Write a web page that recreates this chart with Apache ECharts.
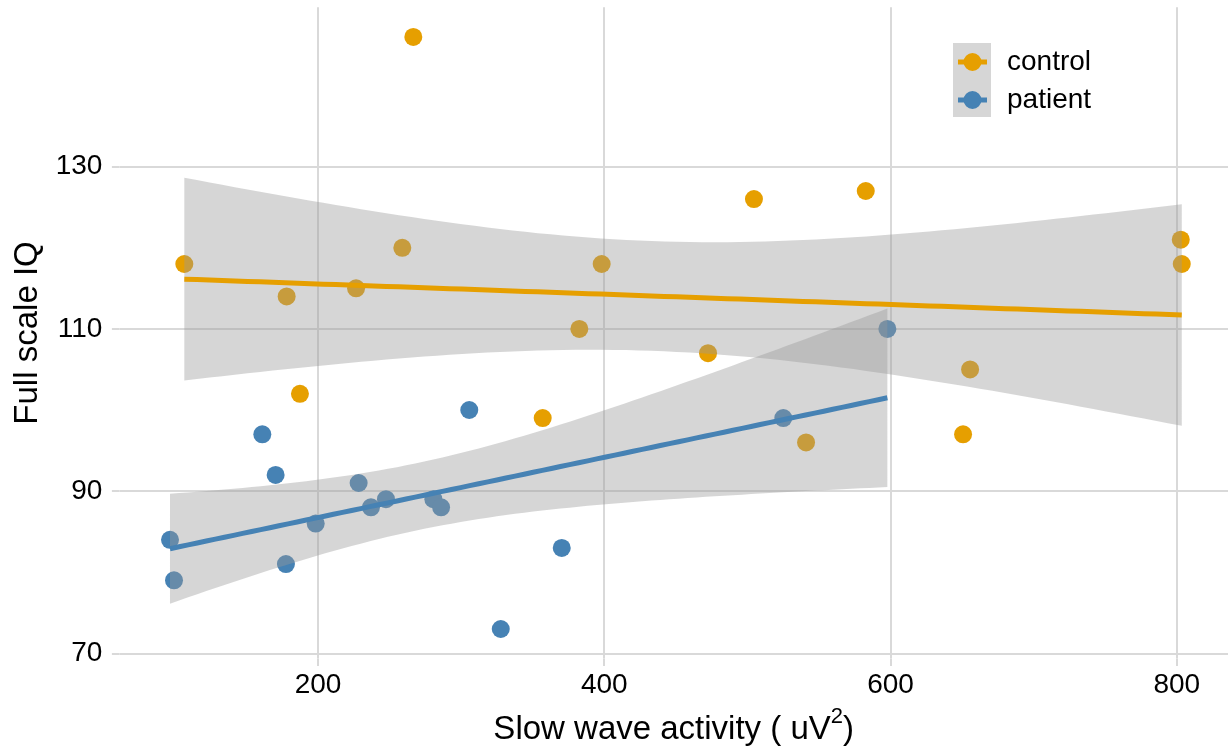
<!DOCTYPE html>
<html>
<head>
<meta charset="utf-8">
<script src="https://cdn.jsdelivr.net/npm/echarts@6/dist/echarts.min.js"></script>
<style>
html, body { margin: 0; padding: 0; background: #ffffff; }
#chart { width: 1228px; height: 753px; }
</style>
</head>
<body>
<div id="chart"></div>
<script>
// ---- data ----
const groupNames = ['control', 'patient'];

const controlSWA = [266.6, 106.6, 178.1, 187.4, 226.6, 258.9, 357.0, 382.6, 398.2, 472.5, 504.6, 541.0, 582.7, 650.7, 655.6, 802.8, 803.5];
const controlIQ  = [146, 118, 114, 102, 115, 120, 99, 110, 118, 107, 126, 96, 127, 97, 105, 121, 118];

const patientSWA = [96.6, 99.4, 161.1, 170.4, 177.6, 198.4, 228.4, 237.0, 247.5, 280.6, 286.0, 305.7, 327.7, 370.3, 525.1, 597.8];
const patientIQ  = [84, 79, 97, 92, 81, 86, 91, 88, 89, 89, 88, 100, 73, 83, 99, 110];

const xTicks = [200, 400, 600, 800];
const yTicks = [70, 90, 110, 130];

// 97.5% Student-t quantiles for df = n - 2 (95% confidence band, as geom_smooth(method = "lm"))
const tQuantile = { 14: 2.1448, 15: 2.1314 };

// ---- linear fit + confidence band, derived from the points above ----
function linearFit(xs, ys) {
  const n = xs.length;
  const mx = xs.reduce((s, v) => s + v, 0) / n;
  const my = ys.reduce((s, v) => s + v, 0) / n;
  let sxx = 0, sxy = 0;
  for (let i = 0; i < n; i++) { sxx += (xs[i] - mx) ** 2; sxy += (xs[i] - mx) * (ys[i] - my); }
  const b = sxy / sxx, a = my - b * mx;
  let sse = 0;
  for (let i = 0; i < n; i++) sse += (ys[i] - (a + b * xs[i])) ** 2;
  const s2 = sse / (n - 2);
  const t = tQuantile[n - 2];
  const lo = Math.min(...xs), hi = Math.max(...xs);
  const line = [], band = [];
  const steps = 80;
  for (let k = 0; k < steps; k++) {
    const x = lo + (hi - lo) * k / (steps - 1);
    const yhat = a + b * x;
    const se = Math.sqrt(s2 * (1 / n + (x - mx) ** 2 / sxx));
    line.push([x, yhat]);
    band.push([x, yhat - t * se, yhat + t * se]);
  }
  return { line, band };
}

const zip = (xs, ys) => xs.map((x, i) => [x, ys[i]]);

const controlFit = linearFit(controlSWA, controlIQ);
const patientFit = linearFit(patientSWA, patientIQ);

// ---- styling ----
const FONT = "'Liberation Sans', Arial, Helvetica, sans-serif";
const ORANGE = '#E69F00';
const BLUE = '#4682B4';
const RIBBON = 'rgba(153,153,153,0.4)';
const GRID = '#d9d9d9';
const LEGEND_ICON = 'path://M0,6.5H29V11.5H0Z M5.5,9A9,9 0 1 1 23.5,9A9,9 0 1 1 5.5,9Z';

function bandSeries(name, fit) {
  const rows = fit.band;
  return {
    name: name + ' band',
    type: 'custom',
    silent: true,
    z: 3,
    data: rows,
    encode: { x: 0, y: [1, 2] },
    renderItem: function (params, api) {
      if (params.dataIndex !== 0) return null;
      const pts = [];
      for (let i = 0; i < rows.length; i++) pts.push(api.coord([rows[i][0], rows[i][1]]));
      for (let i = rows.length - 1; i >= 0; i--) pts.push(api.coord([rows[i][0], rows[i][2]]));
      return { type: 'polygon', shape: { points: pts }, style: { fill: RIBBON } };
    }
  };
}

const chart = echarts.init(document.getElementById('chart'), null, { renderer: 'canvas' });

const option = {
  animation: false,
  backgroundColor: '#ffffff',
  grid: { left: 119.4, right: 0, top: 7.3, bottom: 94.4, containLabel: false },
  xAxis: {
    type: 'value',
    min: 61.25,
    max: 835.8,
    name: '{a|Slow wave activity ( uV}{s|2}{a|)}',
    nameLocation: 'middle',
    nameGap: 47,
    nameTextStyle: {
      fontFamily: FONT, fontSize: 33, color: '#000',
      rich: {
        a: { fontFamily: FONT, fontSize: 33, lineHeight: 41, color: '#000', verticalAlign: 'bottom' },
        s: { fontFamily: FONT, fontSize: 22, color: '#000', verticalAlign: 'top' }
      }
    },
    axisLine: { show: false },
    axisTick: { show: true, length: 7.5, customValues: xTicks, lineStyle: { color: GRID, width: 2 } },
    axisLabel: { customValues: xTicks, margin: 13, fontFamily: FONT, fontSize: 28, color: '#000' },
    splitLine: { show: true, lineStyle: { color: GRID, width: 2 } }
  },
  yAxis: {
    type: 'value',
    min: 69.35,
    max: 149.65,
    name: 'Full scale IQ',
    nameLocation: 'middle',
    nameGap: 70,
    nameTextStyle: { fontFamily: FONT, fontSize: 33, color: '#000' },
    axisLine: { show: false },
    axisTick: { show: true, length: 7.5, customValues: yTicks, lineStyle: { color: GRID, width: 2 } },
    axisLabel: { customValues: yTicks, margin: 17, fontFamily: FONT, fontSize: 28, color: '#000' },
    splitLine: { show: true, lineStyle: { color: GRID, width: 2 } }
  },
  legend: {
    orient: 'vertical',
    left: 958,
    top: 48,
    padding: 0,
    itemWidth: 29,
    itemHeight: 18,
    itemGap: 10,
    selectedMode: false,
    textStyle: { fontFamily: FONT, fontSize: 28, color: '#000', padding: [0, 0, 0, 15] },
    data: [
      { name: groupNames[0], icon: LEGEND_ICON },
      { name: groupNames[1], icon: LEGEND_ICON }
    ]
  },
  graphic: [
    { type: 'rect', left: 953, top: 43, z: 0, shape: { width: 38, height: 74 }, style: { fill: RIBBON } }
  ],
  series: [
    { name: groupNames[0], type: 'scatter', data: zip(controlSWA, controlIQ), symbolSize: 18,
      itemStyle: { color: ORANGE, opacity: 1 }, z: 2 },
    { name: groupNames[1], type: 'scatter', data: zip(patientSWA, patientIQ), symbolSize: 18,
      itemStyle: { color: BLUE, opacity: 1 }, z: 2 },
    bandSeries(groupNames[0], controlFit),
    bandSeries(groupNames[1], patientFit),
    { name: groupNames[0] + ' fit', type: 'line', data: controlFit.line, symbol: 'none',
      lineStyle: { color: ORANGE, width: 5 }, itemStyle: { color: ORANGE }, silent: true, z: 4 },
    { name: groupNames[1] + ' fit', type: 'line', data: patientFit.line, symbol: 'none',
      lineStyle: { color: BLUE, width: 5 }, itemStyle: { color: BLUE }, silent: true, z: 4 }
  ]
};

chart.setOption(option);
</script>
</body>
</html>
